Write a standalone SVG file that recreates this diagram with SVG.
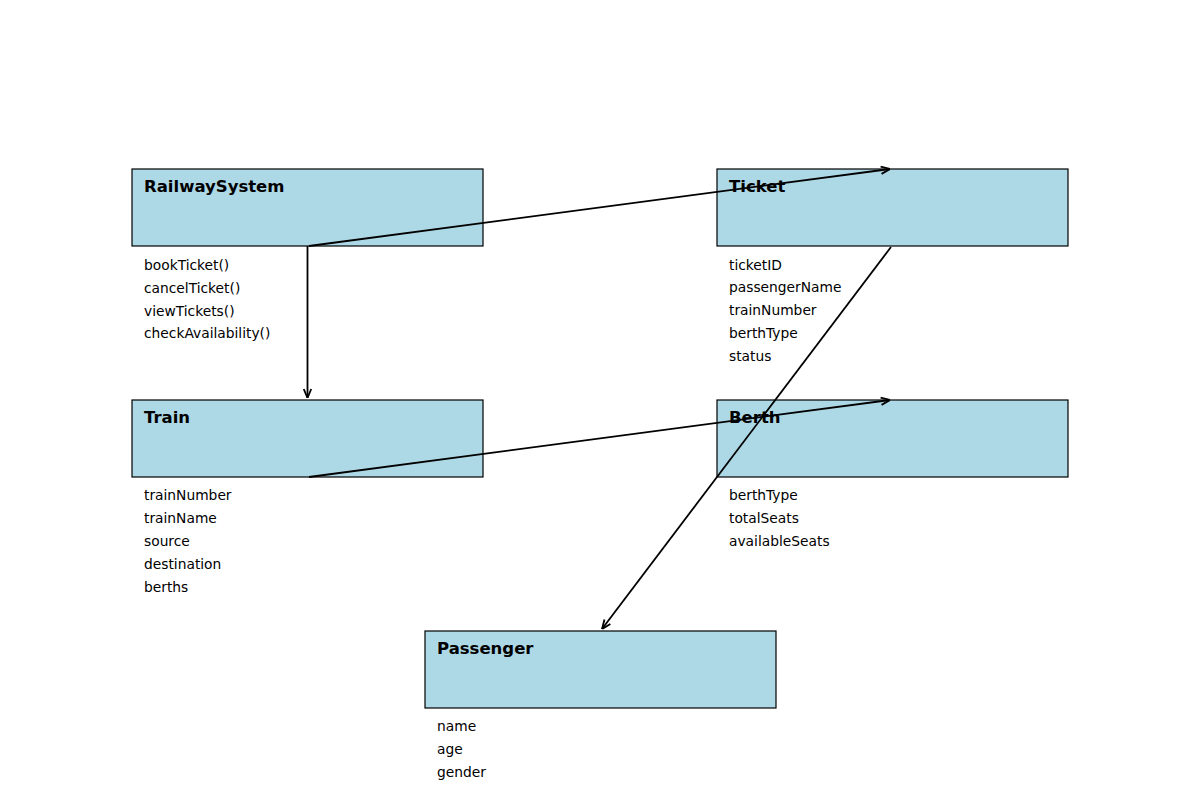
<svg xmlns="http://www.w3.org/2000/svg" width="1200" height="800" viewBox="0 0 1200 800">
  <style>
    .box { fill: #add8e6; stroke: #000; stroke-width: 1.2; }
    .title { font-family: "DejaVu Sans", sans-serif; font-size: 16.5px; font-weight: bold; fill: #000; }
    .member { font-family: "DejaVu Sans", sans-serif; font-size: 13.8px; fill: #000; }
    .edge { stroke: #000; stroke-width: 1.8; fill: none; marker-end: url(#arrow); }
  </style>
  <defs>
    <marker id="arrow" viewBox="0 0 10 10" refX="10" refY="5" markerWidth="10" markerHeight="10" markerUnits="userSpaceOnUse" orient="auto">
      <path d="M1,1.3 L10,5 L1,8.7" fill="none" stroke="#000" stroke-width="1.8"/>
    </marker>
  </defs>
  <rect width="1200" height="800" fill="#fff"/>

  <g id="RailwaySystem">
    <rect class="box" x="132" y="169" width="351" height="77"/>
    <text class="title" x="144" y="192">RailwaySystem</text>
    <text class="member" x="144" y="270">bookTicket()</text>
    <text class="member" x="144" y="293">cancelTicket()</text>
    <text class="member" x="144" y="316">viewTickets()</text>
    <text class="member" x="144" y="338">checkAvailability()</text>
  </g>

  <g id="Ticket">
    <rect class="box" x="717" y="169" width="351" height="77"/>
    <text class="title" x="729" y="192">Ticket</text>
    <text class="member" x="729" y="270">ticketID</text>
    <text class="member" x="729" y="292">passengerName</text>
    <text class="member" x="729" y="315">trainNumber</text>
    <text class="member" x="729" y="338">berthType</text>
    <text class="member" x="729" y="361">status</text>
  </g>

  <g id="Train">
    <rect class="box" x="132" y="400" width="351" height="77"/>
    <text class="title" x="144" y="423">Train</text>
    <text class="member" x="144" y="500">trainNumber</text>
    <text class="member" x="144" y="523">trainName</text>
    <text class="member" x="144" y="546">source</text>
    <text class="member" x="144" y="569">destination</text>
    <text class="member" x="144" y="592">berths</text>
  </g>

  <g id="Berth">
    <rect class="box" x="717" y="400" width="351" height="77"/>
    <text class="title" x="729" y="423">Berth</text>
    <text class="member" x="729" y="500">berthType</text>
    <text class="member" x="729" y="523">totalSeats</text>
    <text class="member" x="729" y="546">availableSeats</text>
  </g>

  <g id="Passenger">
    <rect class="box" x="425" y="631" width="351" height="77"/>
    <text class="title" x="437" y="654">Passenger</text>
    <text class="member" x="437" y="731">name</text>
    <text class="member" x="437" y="754">age</text>
    <text class="member" x="437" y="777">gender</text>
  </g>

  <g id="connectors">
    <line class="edge" x1="309" y1="246" x2="890" y2="169"/>
    <line class="edge" x1="307.5" y1="246" x2="307.5" y2="398"/>
    <line class="edge" x1="309" y1="477" x2="890" y2="400"/>
    <line class="edge" x1="891" y1="247" x2="602" y2="629"/>
  </g>
</svg>
